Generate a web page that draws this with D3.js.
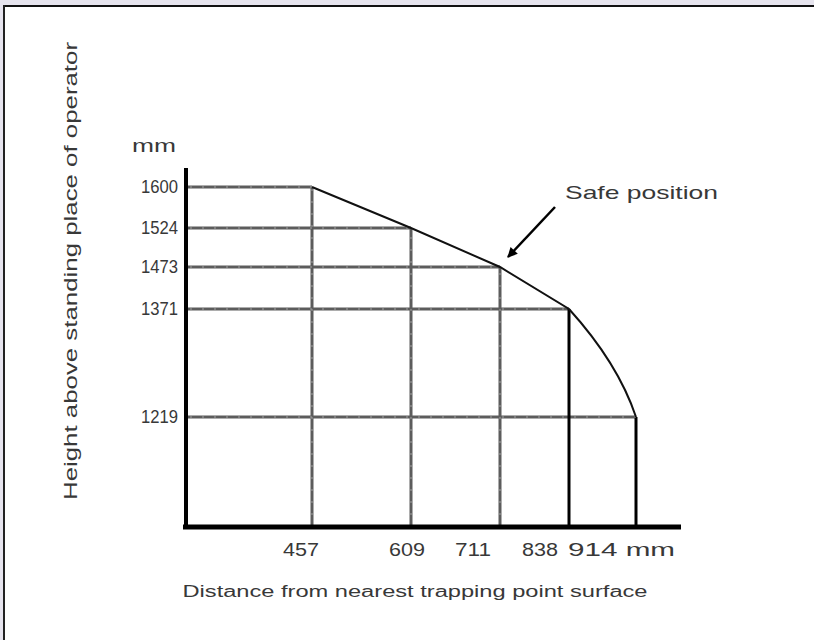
<!DOCTYPE html>
<html>
<head>
<meta charset="utf-8">
<script src="https://cdn.jsdelivr.net/npm/d3@7"></script>
<style>
  html, body { margin: 0; padding: 0; background: #e6e4ee; }
  svg { display: block; }
  text { font-family: "Liberation Sans", Arial, sans-serif; fill: #383838; }
</style>
</head>
<body>
<script>
// ---- Data ----
const xTicks = [457, 609, 711, 838, 914];          // distance, mm
const yTicks = [1600, 1524, 1473, 1371, 1219];     // height, mm
const xTickLabels = ["457", "609", "711", "838", "914 mm"];
const yTickLabels = ["1600", "1524", "1473", "1371", "1219"];
const boundary = [                                 // safe-position envelope
  { x: 457, y: 1600 },
  { x: 609, y: 1524 },
  { x: 711, y: 1473 },
  { x: 838, y: 1371 },
  { x: 914, y: 1219 }
];
const yTitle = "Height above standing place of operator";
const xTitle = "Distance from nearest trapping point surface";
const yUnit = "mm";
const annotation = "Safe position";

// ---- Layout ----
const W = 814, H = 640;
const svg = d3.select("body").append("svg").attr("width", W).attr("height", H);

// background frame
svg.append("rect").attr("x", 0).attr("y", 0).attr("width", W).attr("height", H).attr("fill", "#e6e4ee");
svg.append("rect").attr("x", 4).attr("y", 5).attr("width", W - 4).attr("height", H - 5).attr("fill", "#ffffff");
svg.append("line").attr("x1", 3).attr("x2", W).attr("y1", 6).attr("y2", 6).attr("stroke", "#111").attr("stroke-width", 2);
svg.append("line").attr("x1", 4).attr("x2", 4).attr("y1", 5).attr("y2", H).attr("stroke", "#222").attr("stroke-width", 2);

// schematic (non-uniform) scales
const x = d3.scaleLinear().domain([0, ...xTicks]).range([186, 312, 411, 500, 569, 636]);
const y = d3.scaleLinear().domain([0, ...yTicks.slice().reverse()]).range([527, 417, 309, 267, 228, 187]);
const xLabelPos = d3.scaleLinear().domain(xTicks).range([301, 407, 473, 540, 568]);
const xAxisEnd = 681, yAxisTop = 168;

const grid = svg.append("g");
// horizontal grid lines: from y-axis to the boundary point
grid.selectAll("line.h").data(boundary).join("line")
  .attr("class", "h")
  .attr("x1", x(0)).attr("x2", d => x(d.x))
  .attr("y1", d => y(d.y)).attr("y2", d => y(d.y))
  .attr("stroke", "#5c5c5c").attr("stroke-width", 3);
// vertical grid lines: from x-axis up to boundary point
grid.selectAll("line.v").data(boundary).join("line")
  .attr("class", "v")
  .attr("x1", d => x(d.x)).attr("x2", d => x(d.x))
  .attr("y1", y(0)).attr("y2", d => y(d.y))
  .attr("stroke", (d, i) => i >= 3 ? "#000" : "#5c5c5c")
  .attr("stroke-width", 3);
// dotted texture on gray lines
grid.selectAll("line.hd").data(boundary).join("line")
  .attr("x1", x(0) + 4).attr("x2", d => x(d.x))
  .attr("y1", d => y(d.y)).attr("y2", d => y(d.y))
  .attr("stroke", "#a0a0a0").attr("stroke-width", 1).attr("stroke-dasharray", "2,10");
grid.selectAll("line.vd").data(boundary.slice(0, 3)).join("line")
  .attr("x1", d => x(d.x)).attr("x2", d => x(d.x))
  .attr("y1", y(0)).attr("y2", d => y(d.y))
  .attr("stroke", "#a0a0a0").attr("stroke-width", 1).attr("stroke-dasharray", "2,10");

// envelope: straight segments, last one bowed outwards
const pts = boundary.map(d => [x(d.x), y(d.y)]);
const p = d3.path();
p.moveTo(pts[0][0], pts[0][1]);
for (let i = 1; i < pts.length - 1; i++) p.lineTo(pts[i][0], pts[i][1]);
const a = pts[pts.length - 2], b = pts[pts.length - 1];
p.quadraticCurveTo(a[0] + 0.73 * (b[0] - a[0]), a[1] + 0.5 * (b[1] - a[1]), b[0], b[1]);
svg.append("path").attr("d", p.toString())
  .attr("fill", "none").attr("stroke", "#111").attr("stroke-width", 2);

// axes
svg.append("line").attr("x1", x(0)).attr("x2", x(0)).attr("y1", yAxisTop).attr("y2", y(0) + 2)
  .attr("stroke", "#000").attr("stroke-width", 4);
svg.append("line").attr("x1", x(0) - 3).attr("x2", xAxisEnd).attr("y1", y(0)).attr("y2", y(0))
  .attr("stroke", "#000").attr("stroke-width", 5);

// y tick labels via axis
const yAxis = d3.axisLeft(y).tickValues(yTicks).tickSize(0).tickPadding(8)
  .tickFormat((d, i) => yTickLabels[i]);
const yg = svg.append("g").attr("transform", `translate(${x(0)},0)`).call(yAxis);
yg.select(".domain").remove();
yg.attr("font-size", null).attr("font-family", null);
yg.selectAll("text")
  .style("font-size", "18px").style("fill", "#383838")
  .style("font-family", "'Liberation Sans', Arial, sans-serif")
  .attr("textLength", 37).attr("lengthAdjust", "spacingAndGlyphs");

// y unit
svg.append("text").attr("x", 176).attr("y", 152).attr("text-anchor", "end")
  .attr("font-size", 19).attr("textLength", 44).attr("lengthAdjust", "spacingAndGlyphs").text(yUnit);

// x tick labels
svg.selectAll("text.xl").data(xTicks).join("text")
  .attr("class", "xl")
  .attr("x", d => xLabelPos(d))
  .attr("y", 556)
  .attr("text-anchor", (d, i) => i < 4 ? "middle" : "start")
  .attr("font-size", 18)
  .attr("textLength", (d, i) => i < 4 ? 36 : 107)
  .attr("lengthAdjust", "spacingAndGlyphs")
  .text((d, i) => xTickLabels[i]);

// axis titles
svg.append("text").attr("x", 415).attr("y", 597).attr("text-anchor", "middle")
  .attr("font-size", 16).attr("textLength", 465).attr("lengthAdjust", "spacingAndGlyphs").text(xTitle);
svg.append("text").attr("transform", "translate(77,271) rotate(-90)").attr("text-anchor", "middle")
  .attr("font-size", 18).attr("textLength", 458).attr("lengthAdjust", "spacingAndGlyphs").text(yTitle);

// annotation + arrow
const tip = [x(711) + 8, y(1473) - 10];
svg.append("text").attr("x", 565).attr("y", 199).attr("font-size", 19)
  .attr("textLength", 153).attr("lengthAdjust", "spacingAndGlyphs").text(annotation);
const defs = svg.append("defs");
defs.append("marker").attr("id", "ah").attr("viewBox", "0 0 10 10").attr("refX", 9).attr("refY", 5)
  .attr("markerWidth", 5).attr("markerHeight", 4).attr("orient", "auto")
  .append("path").attr("d", "M0,0 L10,5 L0,10 z").attr("fill", "#000");
svg.append("line").attr("x1", tip[0] + 47).attr("y1", tip[1] - 50).attr("x2", tip[0]).attr("y2", tip[1])
  .attr("stroke", "#000").attr("stroke-width", 2.5).attr("marker-end", "url(#ah)");
</script>
</body>
</html>
